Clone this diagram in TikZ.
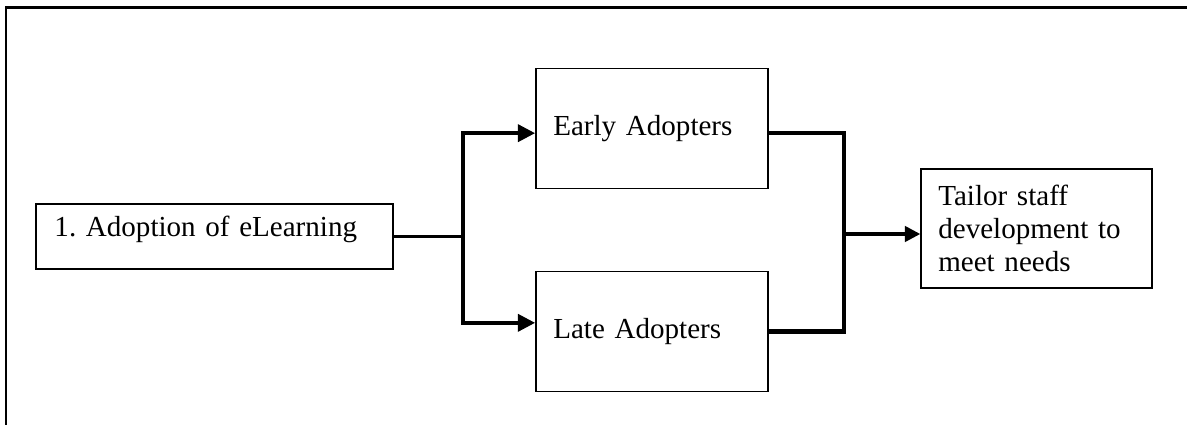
\documentclass[tikz,border=0pt]{standalone}
\usepackage{fontspec}
\setmainfont{Liberation Serif}
\usetikzlibrary{arrows.meta}
\frenchspacing

\begin{document}
\begin{tikzpicture}[x=0.015cm, y=-0.015cm,
    box/.style={draw, line width=0.6pt, align=left, inner xsep=0.26cm, inner ysep=0pt,
      font=\fontsize{12.4}{14}\selectfont},
    flow/.style={line width=1.4pt},
    branch/.style={line width=1.9pt}]
  \useasboundingbox (0,0) rectangle (1187,425);
  % frame round the page (top and left side)
  \draw[line width=0.9pt] (6,425) -- (6,7.5) -- (1187,7.5);

  \node[box, text width=4.8cm, minimum height=0.975cm, inner xsep=0.28cm, text depth=0.32cm] (adopt) at (214.5,236.5) {1. Adoption of eLearning};
  \node[box, text width=2.96cm, minimum height=1.8cm] (early) at (652,128.5) {Early Adopters};
  \node[box, text width=2.96cm, minimum height=1.8cm] (late) at (652,331.5) {Late Adopters};
  \node[box, text width=2.945cm, minimum height=1.785cm] (tailor) at (1036.5,228.5) {Tailor staff\\development to\\meet needs};

  \coordinate (split) at (463,236.5);
  \coordinate (join) at (844,234);

  \draw[flow] (adopt.east) -- (split);
  \draw[branch,-{Triangle[length=0.26cm,width=0.25cm]}] (split) |- ([yshift=-0.07cm]early.west);
  \draw[branch,-{Triangle[length=0.26cm,width=0.25cm]}] (split) |- ([yshift=0.13cm]late.west);
  \draw[branch] ([yshift=-0.07cm]early.east) -| (join);
  \draw[branch] (late.east) -| (join);
  \draw[flow,-{Triangle[length=0.23cm,width=0.23cm]}] (join) -- (join -| tailor.west);
\end{tikzpicture}
\end{document}
